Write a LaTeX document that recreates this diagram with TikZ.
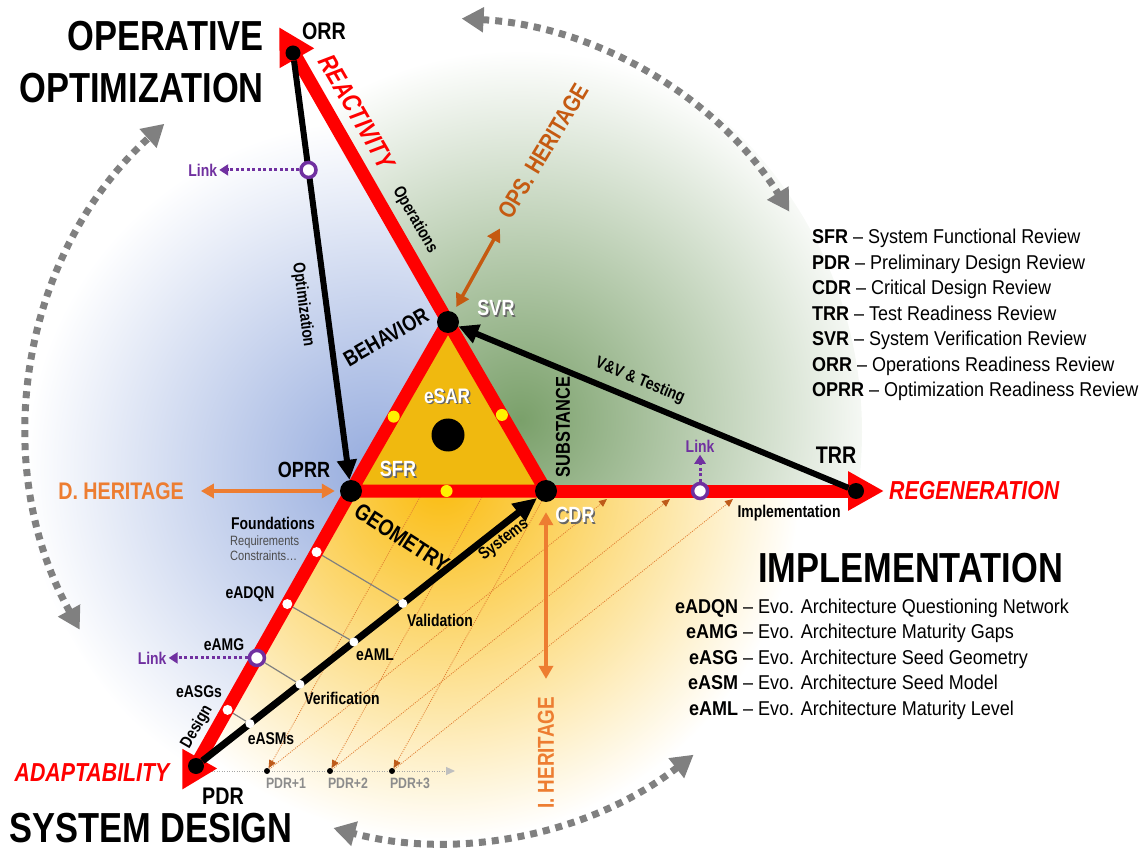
\documentclass[tikz,border=0pt]{standalone}
\usepackage{fontspec}
\setmainfont{Liberation Sans}[FakeStretch=0.82]
\newfontfamily\legendfont{Liberation Sans}[FakeStretch=0.9]
\usetikzlibrary{arrows.meta,positioning}

\definecolor{goldtri}{RGB}{240,185,15}
\definecolor{bluein}{RGB}{150,172,222}
\definecolor{greenin}{RGB}{122,160,106}
\definecolor{yellowin}{RGB}{250,188,15}
\definecolor{herit}{RGB}{237,125,49}
\definecolor{opsherit}{RGB}{197,90,17}
\definecolor{linkpurple}{RGB}{112,48,160}
\definecolor{dotorange}{RGB}{225,125,50}
\definecolor{arrowbrown}{RGB}{190,90,25}
\definecolor{arcgray}{RGB}{128,128,128}

\pgfdeclarelayer{back}
\pgfdeclarelayer{mid}
\pgfsetlayers{back,mid,main}

\newcommand{\shtxt}[1]{\makebox[0pt][l]{\kern1.5pt\raisebox{-1.5pt}{\textcolor{black!60}{#1}}}#1}

\tikzset{
  vdot/.style={circle,fill=black,inner sep=0pt,minimum size=#1},
  wdot/.style={circle,fill=white,inner sep=0pt,minimum size=#1},
  ydot/.style={circle,fill=yellow,inner sep=0pt,minimum size=12pt},
  lring/.style={circle,draw=linkpurple,line width=3.5pt,fill=white,inner sep=0pt,minimum size=15pt},
  redthick/.style={draw=red,line width=13pt},
  redarrow/.style={redthick,-{Triangle[length=36pt,width=37pt]}},
  blkarrow/.style={draw=black,line width=6pt,-{Triangle[length=20pt,width=19pt]}},
  linkarrow/.style={draw=linkpurple,line width=3pt,dash pattern=on 3pt off 2.5pt,-{Triangle[length=9pt,width=11pt]}},
  herarrow/.style={draw=herit,line width=4pt,{Triangle[length=13pt,width=14pt]}-{Triangle[length=13pt,width=14pt]}},
  gridln/.style={draw=dotorange,line width=0.8pt,dash pattern=on 1pt off 1.2pt,-{Triangle[length=8pt,width=7pt,color=arrowbrown]}},
  graylink/.style={draw=black!50,line width=1.2pt},
  arcdots/.style={draw=arcgray,line width=7pt,dash pattern=on 7pt off 6pt,{Triangle[length=22pt,width=24pt]}-{Triangle[length=22pt,width=24pt]}},
  vlbl/.style={font=\bfseries\fontsize{22}{26}\selectfont,inner sep=0pt},
  wlbl/.style={vlbl,text=white},
  slbl/.style={font=\bfseries\fontsize{17}{20}\selectfont,inner sep=0pt},
  bigtitle/.style={font=\bfseries\fontsize{42}{52}\selectfont,inner sep=0pt},
  dirlbl/.style={text=red,font=\bfseries\itshape\fontsize{26}{30}\selectfont,inner sep=0pt},
  herlbl/.style={text=herit,font=\bfseries\fontsize{24}{28}\selectfont,inner sep=0pt},
  linklbl/.style={text=linkpurple,font=\bfseries\fontsize{17}{20}\selectfont,inner sep=2pt},
  pdrlbl/.style={text=black!45,font=\bfseries\fontsize{15}{17}\selectfont,inner sep=0pt},
  legendtxt/.style={font=\legendfont\fontsize{20}{25.5}\selectfont,align=left,inner sep=0pt}
}

\begin{document}
\begin{tikzpicture}[x=1pt,y=-1pt]
\useasboundingbox (0,0) rectangle (1144,850);

% review points
\node[vdot=22pt] (svr) at (448,322) {};
\node[vdot=22pt] (oprr) at (351,491) {};
\node[vdot=22pt] (cdr) at (546,491) {};
\node[vdot=15pt] (orr) at (293,53) {};
\node[vdot=16pt] (trr) at (856,491) {};
\node[vdot=16pt] (pdr) at (196,766) {};
\node[vdot=33pt] (esar) at (448,435) {};
\coordinate (orrtip) at (279,27);
\coordinate (trrtip) at (884,491);
\coordinate (pdrtip) at (182,790);

% marks along the sides
\path (oprr.center) -- (svr.center) node[ydot,pos=0.44] (ya) {};
\path (svr.center) -- (cdr.center) node[ydot,pos=0.55] (yb) {};
\path (oprr.center) -- (cdr.center) node[ydot,pos=0.49] (yc) {};
\path (oprr.center) -- (pdr.center)
  node[wdot=10pt,pos=0.222] (da) {}
  node[wdot=10pt,pos=0.411] (db) {}
  node[lring,pos=0.607] (dc) {}
  node[wdot=10pt,pos=0.796] (dd) {};
\path (pdr.center) -- (cdr.center)
  node[wdot=9pt,pos=0.591] (sa) {}
  node[wdot=9pt,pos=0.451] (sb) {}
  node[wdot=9pt,pos=0.297] (sc) {}
  node[wdot=9pt,pos=0.154] (sd) {};
\path (orr.center) -- (oprr.center) node[lring,pos=0.267] (la) {};
\path (cdr.center) -- (trr.center) node[lring,pos=0.497] (lc) {};

% PDR+n steps
\node[vdot=6pt] (p1) at (267,771) {};
\node[vdot=6pt] (p2) at (330,771) {};
\node[vdot=6pt] (p3) at (392,771) {};
\coordinate (pend) at (455,771);
\coordinate (g1) at (420,497);
\coordinate (g2) at (482,497);
\coordinate (g3) at (544,497);
\coordinate (h1) at (607,499);
\coordinate (h2) at (670,499);
\coordinate (h3) at (733,499);

% background sectors
\begin{pgfonlayer}{back}
  \begin{scope}
    \clip (440,432) circle (422);
    \begin{scope}
      \clip (svr.center) -- (-148,-720) -- (-800,-720) -- (-800,1536) -- (-238,1536) -- (oprr.center) -- cycle;
      \shade[inner color=bluein,outer color=white] (375,470) circle (350);
    \end{scope}
    \begin{scope}
      \clip (svr.center) -- (-148,-720) -- (1600,-720) -- (1600,491) -- (cdr.center) -- cycle;
      \shade[inner color=greenin,outer color=white] (520,420) circle (370);
    \end{scope}
    \begin{scope}
      \clip (oprr.center) -- (-238,1536) -- (1600,1536) -- (1600,491) -- (cdr.center) -- cycle;
      \shade[inner color=yellowin,outer color=white] (440,480) circle (360);
    \end{scope}
  \end{scope}
  % cycle arrows
  \draw[arcdots] (461.6,18.6) arc[start angle=-87,end angle=-32,radius=412];
  \draw[arcdots] (79.7,629.7) arc[start angle=151,end angle=228,radius=412];
  \draw[arcdots] (693.6,754.7) arc[start angle=52,end angle=105,radius=412];
\end{pgfonlayer}

% connectors
\begin{pgfonlayer}{mid}
  \draw[gridln] (g1) -- (p1);
  \draw[gridln] (g2) -- (p2);
  \draw[gridln] (g3) -- (p3);
  \draw[gridln] (p1) -- (h1);
  \draw[gridln] (p2) -- (h2);
  \draw[gridln] (p3) -- (h3);
  \draw[draw=black!35,line width=1pt,dash pattern=on 1pt off 1.5pt,-{Triangle[length=9pt,width=8pt,color=black!25]}] (pdr.east |- p1) -- (pend);
  \draw[graylink] (da) -- (sa);
  \draw[graylink] (db) -- (sb);
  \draw[graylink] (dc) -- (sc);
  \draw[graylink] (dd) -- (sd);
  \fill[goldtri] (oprr.center) -- (svr.center) -- (cdr.center) -- cycle;
  \draw[redthick,line join=round] (oprr.center) -- (svr.center) -- (cdr.center) -- cycle;
  \draw[redarrow] (svr.center) -- (orrtip);
  \draw[redarrow] (oprr.center) -- (pdrtip);
  \draw[redarrow] (cdr.center) -- (trrtip);
  \draw[blkarrow] (orr) -- (oprr);
  \draw[blkarrow] (trr) -- (svr);
  \draw[blkarrow,line width=7pt,-{Triangle[length=24pt,width=21pt]}] (pdr) -- (cdr);
\end{pgfonlayer}

% titles
\node[bigtitle,align=right,anchor=north east] (optitle) at (264,21) {OPERATIVE\\OPTIMIZATION};
\node[bigtitle,anchor=base west] (sdtitle) at (9,842) {SYSTEM DESIGN};
\node[bigtitle,anchor=base west] (imtitle) at (758,582) {IMPLEMENTATION};

% review labels
\node[vlbl,font=\bfseries\fontsize{24}{28}\selectfont] (orrlbl) at (324,31) {ORR};
\node[wlbl] (svrlbl) at (496,309) {\shtxt{SVR}};
\node[vlbl] (oprrlbl) at (304,470) {OPRR};
\node[wlbl] (sfrlbl) at (398,470) {\shtxt{SFR}};
\node[wlbl] (cdrlbl) at (575,516) {\shtxt{CDR}};
\node[vlbl,font=\bfseries\fontsize{24}{28}\selectfont] (trrlbl) at (836,455) {TRR};
\node[vlbl,font=\bfseries\fontsize{24}{28}\selectfont] (pdrlbl) at (223,796) {PDR};
\node[wlbl,font=\bfseries\fontsize{21}{25}\selectfont] (esarlbl) at (447,397) {\shtxt{eSAR}};

% facets
\node[vlbl,rotate=30] (behav) at (386,337) {BEHAVIOR};
\node[vlbl,font=\bfseries\fontsize{20}{24}\selectfont,rotate=90] (subst) at (563,427) {SUBSTANCE};
\node[vlbl,font=\bfseries\fontsize{23}{27}\selectfont,rotate=-33] (geom) at (402,538) {GEOMETRY};

% directions
\node[dirlbl,rotate=-60] (react) at (357,112) {REACTIVITY};
\node[dirlbl,anchor=west] (regen) [right=5pt of trrtip] {REGENERATION};
\node[dirlbl] (adapt) at (92,773) {ADAPTABILITY};

% edge labels
\node[slbl,rotate=-60] (opslbl) at (415,220) {Operations};
\node[slbl,rotate=-82.5] (optlbl) at (303,305) {Optimization};
\node[slbl,rotate=-22.5] (vvlbl) at (640,381) {V\&V \& Testing};
\node[slbl,rotate=38] (syslbl) at (504,540) {Systems};
\node[slbl,rotate=60] (deslbl) at (197,727) {Design};
\node[slbl] (implbl) at (789,513) {Implementation};

% design steps
\node[slbl,anchor=west] (fnd) at (231,523) {Foundations};
\node[inner sep=0pt,align=left,anchor=north west,text=black!70,font=\fontsize{13.5}{15}\selectfont] (reqs) at (230,536) {Requirements\\Constraints…};
\node[slbl] (adqn) at (250,594) {eADQN};
\node[slbl] (amg) at (224,645) {eAMG};
\node[slbl] (asgs) at (199,692) {eASGs};
\node[slbl] (valid) at (440,620) {Validation};
\node[slbl] (aml) at (375,655) {eAML};
\node[slbl] (verif) at (342,698) {Verification};
\node[slbl] (asms) at (271,739) {eASMs};
\node[pdrlbl] (p1lbl) at (286,783) {PDR+1};
\node[pdrlbl] (p2lbl) at (348,783) {PDR+2};
\node[pdrlbl] (p3lbl) at (410,783) {PDR+3};

% links
\node[linklbl] (lnka) [left=80pt of la] {Link};
\node[linklbl] (lnkb) [left=79pt of dc] {Link};
\node[linklbl] (lnkc) [above=27pt of lc] {Link};
\draw[linkarrow] (la) -- (lnka);
\draw[linkarrow] (dc) -- (lnkb);
\draw[linkarrow] (lc) -- (lnkc);

% heritage
\node[herlbl] (dher) at (121,491) {D. HERITAGE};
\node[herlbl,font=\bfseries\fontsize{23}{27}\selectfont,rotate=90] (iher) at (546,753) {I. HERITAGE};
\node[herlbl,text=opsherit,rotate=59] (oher) at (543,151) {OPS. HERITAGE};
\draw[herarrow,shorten <=17pt,shorten >=5pt] (dher) -- (oprr);
\draw[herarrow,shorten <=18pt,shorten >=10pt] (iher) -- (cdr);
\draw[herarrow,draw=opsherit,line width=3.5pt,shorten <=12pt,shorten >=6pt] (oher) -- (svr);

% legends
\node[legendtxt,anchor=north west] (revlist) at (812,229) {\textbf{SFR} \textendash{} System Functional Review\\
\textbf{PDR} \textendash{} Preliminary Design Review\\
\textbf{CDR} \textendash{} Critical Design Review\\
\textbf{TRR} \textendash{} Test Readiness Review\\
\textbf{SVR} \textendash{} System Verification Review\\
\textbf{ORR} \textendash{} Operations Readiness Review\\
\textbf{OPRR} \textendash{} Optimization Readiness Review};
\node[legendtxt,anchor=north west] (evolist) at (675,595) {\begin{tabular}{@{}r@{\ \textendash\ }l@{}}
\textbf{eADQN} & Evo. Architecture Questioning Network\\
\textbf{eAMG} & Evo. Architecture Maturity Gaps\\
\textbf{eASG} & Evo. Architecture Seed Geometry\\
\textbf{eASM} & Evo. Architecture Seed Model\\
\textbf{eAML} & Evo. Architecture Maturity Level
\end{tabular}};
\end{tikzpicture}
\end{document}
